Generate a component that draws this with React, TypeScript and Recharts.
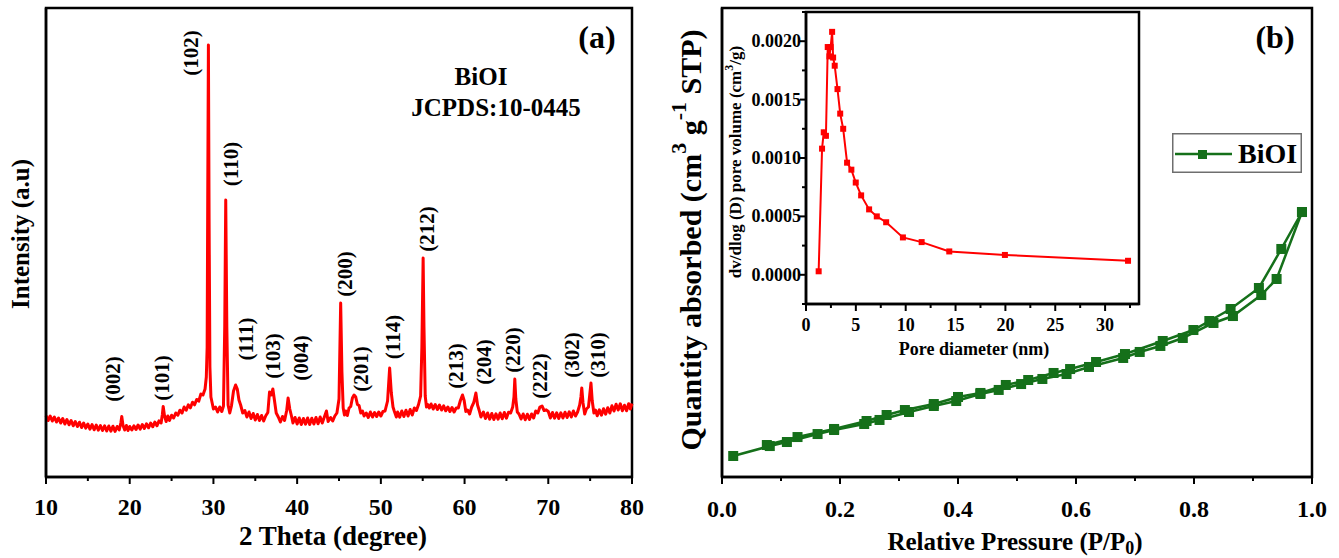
import React from 'react';
import { LineChart, Line, XAxis, YAxis, ReferenceArea, ReferenceDot, Label, Legend } from 'recharts';

const SERIF = "'Liberation Serif', 'Times New Roman', Times, serif";
const RED = '#ff0000';
const GREEN = '#15701a';
const INK = '#000';

// ---------- (a) XRD pattern: [2θ (degree), intensity (counts)] ----------
const xrdScan: [number, number][] = [
  [10.0, 615], [10.25, 565], [10.5, 610], [10.75, 560], [11.0, 600], [11.25, 550], [11.5, 590], [11.75, 540],
  [12.0, 585], [12.25, 530], [12.5, 575], [12.75, 522], [13.0, 565], [13.25, 512], [13.5, 555], [13.75, 505],
  [14.0, 548], [14.25, 495], [14.5, 540], [14.75, 488], [15.0, 530], [15.25, 478], [15.5, 525], [15.75, 472],
  [16.0, 520], [16.25, 468], [16.5, 515], [16.75, 465], [17.0, 512], [17.25, 460], [17.5, 510], [17.75, 458],
  [18.0, 508], [18.25, 456], [18.5, 505], [18.75, 470], [18.95, 545], [19.05, 605], [19.2, 515], [19.4, 470],
  [19.6, 515], [19.8, 465], [20.0, 505], [20.25, 470], [20.5, 512], [20.75, 475], [21.0, 520], [21.25, 478],
  [21.5, 525], [21.75, 485], [22.0, 532], [22.25, 492], [22.5, 540], [22.75, 502], [23.0, 550], [23.25, 512],
  [23.5, 562], [23.75, 540], [23.9, 625], [24.0, 705], [24.15, 615], [24.35, 555], [24.55, 610], [24.75, 565],
  [25.0, 618], [25.25, 590], [25.5, 640], [25.75, 618], [26.0, 668], [26.25, 640], [26.5, 700], [26.75, 668],
  [27.0, 722], [27.25, 692], [27.5, 748], [27.75, 722], [28.0, 775], [28.25, 758], [28.5, 830], [28.75, 820],
  [29.0, 880], [29.15, 1000], [29.25, 1300], [29.32, 2800], [29.4, 4320], [29.48, 2600], [29.58, 1100], [29.7, 800],
  [29.85, 740], [30.0, 680], [30.25, 700], [30.5, 650], [30.75, 700], [31.0, 655], [31.2, 710], [31.35, 1500],
  [31.47, 2770], [31.6, 1500], [31.75, 720], [31.95, 640], [32.15, 710], [32.4, 860], [32.65, 920], [32.85, 880],
  [33.05, 770], [33.25, 720], [33.5, 640], [33.75, 665], [34.0, 600], [34.25, 650], [34.5, 585], [34.75, 635],
  [35.0, 570], [35.25, 625], [35.5, 565], [35.75, 615], [36.0, 560], [36.25, 612], [36.5, 645], [36.7, 850],
  [36.9, 820], [37.1, 880], [37.3, 760], [37.5, 640], [37.75, 600], [38.0, 550], [38.25, 605], [38.5, 565],
  [38.75, 665], [38.92, 790], [39.12, 680], [39.35, 600], [39.5, 540], [39.75, 595], [40.0, 530], [40.25, 590],
  [40.5, 525], [40.75, 585], [41.0, 528], [41.25, 590], [41.5, 525], [41.75, 588], [42.0, 530], [42.25, 595],
  [42.5, 532], [42.75, 600], [43.0, 540], [43.25, 600], [43.5, 660], [43.7, 555], [44.0, 595], [44.25, 560],
  [44.5, 610], [44.75, 640], [45.0, 780], [45.2, 1740], [45.35, 1050], [45.5, 690], [45.65, 620], [45.8, 660],
  [46.0, 615], [46.2, 690], [46.4, 705], [46.6, 790], [46.8, 820], [47.0, 800], [47.2, 725], [47.4, 715],
  [47.6, 640], [47.8, 660], [48.0, 610], [48.25, 640], [48.5, 595], [48.75, 650], [49.0, 600], [49.25, 645],
  [49.5, 605], [49.75, 650], [50.0, 610], [50.25, 655], [50.5, 660], [50.8, 760], [51.05, 1090], [51.25, 840],
  [51.45, 700], [51.6, 660], [51.85, 600], [52.0, 650], [52.25, 598], [52.5, 660], [52.75, 605], [53.0, 668],
  [53.25, 610], [53.5, 675], [53.75, 620], [54.0, 690], [54.25, 665], [54.5, 725], [54.75, 810], [54.9, 1300],
  [55.05, 2190], [55.15, 1500], [55.3, 810], [55.45, 700], [55.6, 725], [55.8, 690], [56.0, 730], [56.25, 680],
  [56.5, 725], [56.75, 675], [57.0, 720], [57.25, 670], [57.5, 712], [57.75, 662], [58.0, 700], [58.25, 655],
  [58.5, 695], [58.75, 650], [59.0, 690], [59.25, 690], [59.5, 765], [59.75, 820], [59.95, 765], [60.15, 655],
  [60.35, 670], [60.6, 630], [60.85, 700], [61.1, 745], [61.35, 840], [61.55, 720], [61.75, 665], [61.95, 600],
  [62.25, 650], [62.5, 585], [62.75, 640], [63.0, 578], [63.25, 635], [63.5, 575], [63.75, 632], [64.0, 578],
  [64.25, 640], [64.5, 582], [64.75, 645], [65.0, 588], [65.25, 648], [65.5, 640], [65.75, 700], [65.9, 800],
  [66.0, 980], [66.12, 780], [66.3, 650], [66.5, 630], [66.75, 580], [67.0, 630], [67.25, 572], [67.5, 628],
  [67.75, 575], [68.0, 630], [68.25, 590], [68.5, 660], [68.75, 640], [69.0, 700], [69.25, 710], [69.5, 665],
  [69.75, 672], [70.0, 655], [70.25, 590], [70.5, 645], [70.75, 588], [71.0, 642], [71.25, 585], [71.5, 642],
  [71.75, 590], [72.0, 648], [72.25, 595], [72.5, 652], [72.75, 600], [73.0, 660], [73.25, 610], [73.5, 650],
  [73.75, 720], [73.9, 800], [74.0, 890], [74.15, 740], [74.35, 630], [74.55, 680], [74.8, 700], [74.95, 820],
  [75.1, 940], [75.25, 760], [75.45, 640], [75.65, 668], [75.85, 612], [76.1, 672], [76.35, 618], [76.6, 682],
  [76.85, 628], [77.1, 692], [77.35, 640], [77.6, 712], [77.85, 660], [78.1, 728], [78.35, 670], [78.6, 732],
  [78.85, 662], [79.1, 718], [79.35, 662], [79.6, 732], [79.8, 680], [80.0, 735],
];

// Miller indices and where each annotation sits (2θ, counts at label centre)
const xrdPeakLabels: { hkl: string; t: number; c: number }[] = [
  { hkl: '(002)', t: 18.06, c: 980 },
  { hkl: '(101)', t: 23.86, c: 990 },
  { hkl: '(102)', t: 27.32, c: 4240 },
  { hkl: '(110)', t: 32.1, c: 3130 },
  { hkl: '(111)', t: 33.9, c: 1380 },
  { hkl: '(103)', t: 37.12, c: 1210 },
  { hkl: '(004)', t: 40.43, c: 1190 },
  { hkl: '(200)', t: 45.7, c: 2030 },
  { hkl: '(201)', t: 47.63, c: 1080 },
  { hkl: '(114)', t: 51.45, c: 1400 },
  { hkl: '(212)', t: 55.51, c: 2480 },
  { hkl: '(213)', t: 58.98, c: 1110 },
  { hkl: '(204)', t: 62.28, c: 1150 },
  { hkl: '(220)', t: 65.79, c: 1270 },
  { hkl: '(222)', t: 69.01, c: 1010 },
  { hkl: '(302)', t: 72.84, c: 1220 },
  { hkl: '(310)', t: 75.94, c: 1220 },
];

const xrdTicks = [10, 15, 20, 25, 30, 35, 40, 45, 50, 55, 60, 65, 70, 75, 80];
const XRD_MAX = 4690;

// ---------- (b) N2 isotherm: [P/P0, quantity adsorbed (cm3/g STP)] ----------
const isoAdsorption: [number, number][] = [
  [0.019, 2.24], [0.081, 3.3], [0.11, 3.73], [0.162, 4.58], [0.19, 5.01], [0.241, 5.65], [0.267, 6.08],
  [0.317, 6.93], [0.359, 7.57], [0.397, 8.1], [0.438, 8.85], [0.469, 9.28], [0.507, 9.91], [0.543, 10.45],
  [0.584, 10.98], [0.622, 11.73], [0.68, 12.69], [0.708, 13.33], [0.743, 13.97], [0.781, 14.82],
  [0.833, 16.42], [0.866, 17.16], [0.914, 19.4], [0.94, 21.11], [0.983, 28.25],
];
const isoDesorption: [number, number][] = [
  [0.983, 28.25], [0.948, 24.31], [0.91, 20.15], [0.862, 17.91], [0.826, 16.63], [0.799, 15.67],
  [0.747, 14.5], [0.683, 13.11], [0.634, 12.26], [0.59, 11.51], [0.562, 11.09], [0.519, 10.34],
  [0.481, 9.81], [0.438, 8.96], [0.4, 8.53], [0.359, 7.78], [0.31, 7.14], [0.279, 6.61], [0.245, 5.97],
  [0.19, 5.12], [0.128, 4.26], [0.076, 3.41],
];
const pressureTicks = [0, 0.1, 0.2, 0.3, 0.4, 0.5, 0.6, 0.7, 0.8, 0.9, 1.0];

// ---------- inset: BJH pore size distribution ----------
const poreDiameter = [1.27, 1.61, 1.78, 2.0, 2.18, 2.35, 2.47, 2.62, 2.72, 2.88, 3.16, 3.43, 3.73, 4.12, 4.55,
  4.99, 5.53, 6.33, 7.1, 8.04, 9.72, 11.6, 14.37, 19.95, 32.3];
const poreVolume = [0.00003, 0.00108, 0.00122, 0.00119, 0.00195, 0.00187, 0.00195, 0.00208, 0.00186, 0.00179,
  0.00159, 0.00138, 0.00125, 0.00096, 0.0009, 0.00079, 0.00068, 0.00056, 0.0005, 0.00045, 0.00032, 0.00028,
  0.0002, 0.00017, 0.00012];
const poreXTicks = [0, 2.5, 5, 7.5, 10, 12.5, 15, 17.5, 20, 22.5, 25, 27.5, 30, 32.5];
const poreYTicks = [-0.00025, 0, 0.00025, 0.0005, 0.00075, 0.001, 0.00125, 0.0015, 0.00175, 0.002, 0.00225];
const PORE_X_MAX = 33.4;

const xrdData = xrdScan.map(([t, c]) => ({ t, c }));
const adsData = isoAdsorption.map(([p, q]) => ({ p, q }));
const desData = isoDesorption.map(([p, q]) => ({ p, q }));
const poreData = poreDiameter.map((d, i) => ({ d, v: poreVolume[i] }));

const bold = { fontFamily: SERIF, fontWeight: 700, fill: INK } as const;

// bottom axis tick: short outward mark for every tick, text only on majors
function bottomTick(axisY: number, labelY: number, fontSize: number, isMajor: (v: number) => boolean,
  fmt: (v: number) => string) {
  return (props: any) => {
    const { x, payload } = props;
    const v = payload.value as number;
    const major = isMajor(v);
    return (
      <g>
        <line x1={x} x2={x} y1={axisY} y2={axisY + (major ? 7 : 4)} stroke={INK} strokeWidth={2} />
        {major && (
          <text x={x} y={labelY} textAnchor="middle" dominantBaseline="central" fontSize={fontSize} {...bold}>
            {fmt(v)}
          </text>
        )}
      </g>
    );
  };
}

const xrdTick = bottomTick(477, 507, 24, (v) => v % 10 === 0, (v) => String(v));
const pressureTick = bottomTick(477, 509, 24, (v) => Math.round(v * 10) % 2 === 0, (v) => v.toFixed(1));
const poreXTick = bottomTick(304, 325, 18, (v) => v % 5 === 0, (v) => String(v));

const poreYTick = (props: any) => {
  const { y, payload } = props;
  const v = payload.value as number;
  const major = Math.abs(v * 2000 - Math.round(v * 2000)) < 1e-6;
  return (
    <g>
      <line x1={86} x2={86 - (major ? 6 : 4)} y1={y} y2={y} stroke={INK} strokeWidth={2} />
      {major && (
        <text x={81} y={y} textAnchor="end" dominantBaseline="central" fontSize={18} {...bold}>
          {v.toFixed(4)}
        </text>
      )}
    </g>
  );
};

const squareDot = (size: number, color: string, prefix: string) => (props: any) => {
  const { cx, cy, index } = props;
  return <rect key={`${prefix}${index}`} x={cx - size / 2} y={cy - size / 2} width={size} height={size} fill={color} />;
};

function XrdPanel() {
  return (
    <div style={{ position: 'absolute', left: 0, top: 0 }}>
      <LineChart width={660} height={558} data={xrdData} margin={{ top: 8, right: 28, bottom: 0, left: 0 }}>
        <XAxis dataKey="t" type="number" domain={[10, 80]} ticks={xrdTicks} interval={0} height={81}
          tickLine={false} axisLine={{ stroke: INK, strokeWidth: 2.5 }} tick={xrdTick}>
          <Label content={() => (
            <text x={333} y={536} textAnchor="middle" dominantBaseline="central" fontSize={27} {...bold}>
              2 Theta (degree)
            </text>
          )} />
        </XAxis>
        <YAxis type="number" domain={[0, XRD_MAX]} width={46} tick={false} tickLine={false}
          axisLine={{ stroke: INK, strokeWidth: 2.5 }}>
          <Label content={() => (
            <text x={20} y={234} transform="rotate(-90 20 234)" textAnchor="middle" dominantBaseline="central"
              fontSize={25} {...bold}>
              Intensity (a.u)
            </text>
          )} />
        </YAxis>
        <ReferenceArea x1={10} x2={80} y1={0} y2={XRD_MAX} fill="none" stroke={INK} strokeWidth={2.5}
          ifOverflow="visible" />
        <Line dataKey="c" type="linear" stroke={RED} strokeWidth={3} strokeLinejoin="round" dot={false}
          isAnimationActive={false} />
        {xrdPeakLabels.map((p) => (
          <ReferenceDot key={p.hkl} x={p.t} y={p.c} r={0} ifOverflow="visible"
            shape={(props: any) => (
              <text x={props.cx} y={props.cy} transform={`rotate(-90 ${props.cx} ${props.cy})`}
                textAnchor="middle" dominantBaseline="central" fontSize={21} {...bold}>
                {p.hkl}
              </text>
            )} />
        ))}
      </LineChart>
    </div>
  );
}

function IsothermLegend() {
  return (
    <svg width={130} height={40} style={{ display: 'block' }}>
      <rect x={0.75} y={0.75} width={128.5} height={38.5} fill="#fff" stroke="#6e6e6e" strokeWidth={1.5} />
      <line x1={3} x2={60} y1={21} y2={21} stroke={GREEN} strokeWidth={2.5} />
      <rect x={26} y={17} width={9} height={9} fill={GREEN} />
      <text x={66} y={30} fontSize={28} {...bold}>BiOI</text>
    </svg>
  );
}

function IsothermPanel() {
  return (
    <div style={{ position: 'absolute', left: 660, top: 0 }}>
      <LineChart width={679} height={558} margin={{ top: 8, right: 27, bottom: 0, left: 0 }}>
        <XAxis dataKey="p" type="number" domain={[0, 1]} ticks={pressureTicks} interval={0} height={81}
          tickLine={false} axisLine={{ stroke: INK, strokeWidth: 2.5 }} tick={pressureTick}>
          <Label content={() => (
            <text x={355} y={541} textAnchor="middle" dominantBaseline="central" fontSize={25} {...bold}>
              Relative Pressure (P/P<tspan dy={7} fontSize={18}>0</tspan><tspan dy={-7}>)</tspan>
            </text>
          )} />
        </XAxis>
        <YAxis type="number" domain={[0, 50]} width={62} tick={false} tickLine={false}
          axisLine={{ stroke: INK, strokeWidth: 2.5 }}>
          <Label content={() => (
            <text x={30} y={240} transform="rotate(-90 30 240)" textAnchor="middle" dominantBaseline="central"
              fontSize={30} {...bold}>
              Quantity absorbed (cm<tspan dy={-12} fontSize={22}>3</tspan>
              <tspan dy={12}> g</tspan><tspan dy={-12} fontSize={22}>-1</tspan>
              <tspan dy={12}> STP)</tspan>
            </text>
          )} />
        </YAxis>
        <ReferenceArea x1={0} x2={1} y1={0} y2={50} fill="none" stroke={INK} strokeWidth={2.5} ifOverflow="visible" />
        <Line data={adsData} dataKey="q" name="BiOI" type="linear" stroke={GREEN} strokeWidth={2.5}
          dot={squareDot(10, GREEN, 'a')} isAnimationActive={false} />
        <Line data={desData} dataKey="q" name="BiOI desorption" type="linear" stroke={GREEN} strokeWidth={2.5}
          dot={squareDot(10, GREEN, 'd')} isAnimationActive={false} legendType="none" />
        <Legend layout="vertical" align="center" verticalAlign="middle" content={() => <IsothermLegend />}
          wrapperStyle={{ left: 512, top: 133, width: 130, height: 40 }} />
      </LineChart>
    </div>
  );
}

function PoreInset() {
  return (
    <div style={{ position: 'absolute', left: 720, top: 0 }}>
      <LineChart width={430} height={360} data={poreData} margin={{ top: 12, right: 11, bottom: 0, left: 0 }}>
        <XAxis dataKey="d" type="number" domain={[0, PORE_X_MAX]} ticks={poreXTicks} interval={0} height={56}
          tickLine={false} axisLine={{ stroke: INK, strokeWidth: 2.5 }} tick={poreXTick}>
          <Label content={() => (
            <text x={254} y={349} textAnchor="middle" dominantBaseline="central" fontSize={18} {...bold}>
              Pore diameter (nm)
            </text>
          )} />
        </XAxis>
        <YAxis type="number" domain={[-0.00025, 0.00225]} ticks={poreYTicks} interval={0} width={86}
          tickLine={false} axisLine={{ stroke: INK, strokeWidth: 2.5 }} tick={poreYTick}>
          <Label content={() => (
            <text x={15} y={162} transform="rotate(-90 15 162)" textAnchor="middle" dominantBaseline="central"
              fontSize={17} {...bold}>
              dv/dlog (D) pore volume (cm<tspan dy={-6} fontSize={12}>3</tspan><tspan dy={6}>/g)</tspan>
            </text>
          )} />
        </YAxis>
        <ReferenceArea x1={0} x2={PORE_X_MAX} y1={-0.00025} y2={0.00225} fill="none" stroke={INK}
          strokeWidth={2.5} ifOverflow="visible" />
        <Line dataKey="v" type="linear" stroke={RED} strokeWidth={2} dot={squareDot(6, RED, 'p')}
          isAnimationActive={false} />
      </LineChart>
    </div>
  );
}

export default function App() {
  return (
    <div style={{ position: 'absolute', left: 0, top: 0, width: 1339, height: 558, background: '#fff' }}>
      <XrdPanel />
      <IsothermPanel />
      <PoreInset />
      <svg width={1339} height={558} style={{ position: 'absolute', left: 0, top: 0, pointerEvents: 'none' }}>
        <text x={597} y={37} textAnchor="middle" dominantBaseline="central" fontSize={32} {...bold}>(a)</text>
        <text x={481} y={76} textAnchor="middle" dominantBaseline="central" fontSize={25} {...bold}>BiOI</text>
        <text x={496} y={107} textAnchor="middle" dominantBaseline="central" fontSize={25} {...bold}>JCPDS:10-0445</text>
        <text x={1275} y={37} textAnchor="middle" dominantBaseline="central" fontSize={32} {...bold}>(b)</text>
      </svg>
    </div>
  );
}
